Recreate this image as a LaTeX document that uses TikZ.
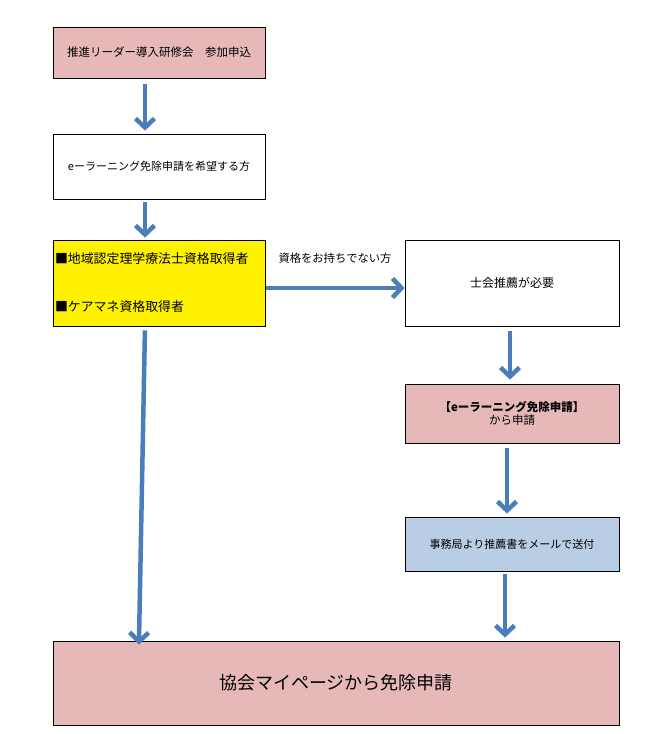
\documentclass[tikz,border=0pt]{standalone}
\usepackage{fontspec}
\setmainfont{Noto Sans CJK JP}
\usetikzlibrary{arrows.meta}
\definecolor{pinkf}{HTML}{E6B9B8}
\definecolor{bluef}{HTML}{B9CDE5}
\definecolor{arrc}{HTML}{4A7EBB}
\tikzset{box/.style={draw,line width=0.8pt,inner sep=2pt,align=center,font=\fontsize{11}{14}\selectfont},arr/.style={draw=arrc,line width=4.5pt,-{Straight Barb[length=9pt,width=19pt,line width=4.5pt]}}}
\begin{document}
\begin{tikzpicture}[x=1pt,y=-1pt]
\useasboundingbox (0,0) rectangle (649,734);
\node[box,fill=pinkf,minimum width=212pt,minimum height=51pt,font=\fontsize{11.5}{14}\selectfont] (b1) at (159,52.5) {推進リーダー導入研修会　参加申込};
\node[box,fill=white,minimum width=212pt,minimum height=65pt] (b2) at (159,166.5) {eーラーニング免除申請を希望する方};
\node[box,fill=yellow,minimum width=212pt,minimum height=86pt,text width=208pt,align=left,font=\fontsize{12.9}{15}\selectfont] (b3) at (159,283) {■地域認定理学療法士資格取得者\\[33pt]■ケアマネ資格取得者};
\node[box,fill=white,minimum width=214pt,minimum height=86pt,font=\fontsize{12}{14}\selectfont] (b4) at (512,283) {士会推薦が必要};
\node[box,fill=pinkf,minimum width=214pt,minimum height=59pt,font=\fontsize{11.5}{13}\selectfont] (b5) at (512,413.5) {\textbf{【eーラーニング免除申請】}\\から申請};
\node[box,fill=bluef,minimum width=214pt,minimum height=54pt] (b6) at (512,544) {事務局より推薦書をメールで送付};
\node[box,fill=pinkf,minimum width=566pt,minimum height=84pt,font=\fontsize{18}{21}\selectfont] (b7) at (336,683) {協会マイページから免除申請};
\node[font=\fontsize{11.3}{13}\selectfont] (lb) at (335,258) {資格をお持ちでない方};
\draw[arr,shorten <=6pt,shorten >=3pt] ([xshift=-14pt]b1.south) -- ([xshift=-14pt]b2.north);
\draw[arr,shorten <=3pt,shorten >=2pt] ([xshift=-14pt]b2.south) -- ([xshift=-14pt]b3.north);
\draw[arr,shorten <=1pt,shorten >=0pt] ([yshift=-5pt]b3.east) -- ([yshift=-5pt]b4.west);
\draw[arr,shorten <=4pt,shorten >=-4pt] ([xshift=-14pt]b3.south) -- ([xshift=-197pt]b7.north);
\draw[arr,shorten <=5pt,shorten >=4pt] ([xshift=-2pt]b4.south) -- ([xshift=-2pt]b5.north);
\draw[arr,shorten <=5pt,shorten >=3pt] ([xshift=-5pt]b5.south) -- ([xshift=-5pt]b6.north);
\draw[arr,shorten <=3pt,shorten >=3pt] ([xshift=-7pt]b6.south) -- ([xshift=169pt]b7.north);
\end{tikzpicture}
\end{document}
